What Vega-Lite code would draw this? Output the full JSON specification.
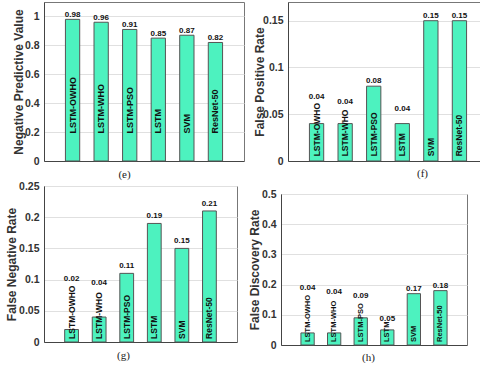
{
  "$schema": "https://vega.github.io/schema/vega-lite/v6.json",
  "padding": {"left": 4, "top": 1, "right": 0, "bottom": 0},
  "data": {"values": [
    {"model": "LSTM-OWHO", "npv": 0.98, "fpr": 0.04, "fnr": 0.02, "fdr": 0.04},
    {"model": "LSTM-WHO", "npv": 0.96, "fpr": 0.04, "fnr": 0.04, "fdr": 0.04},
    {"model": "LSTM-PSO", "npv": 0.91, "fpr": 0.08, "fnr": 0.11, "fdr": 0.09},
    {"model": "LSTM", "npv": 0.85, "fpr": 0.04, "fnr": 0.19, "fdr": 0.05},
    {"model": "SVM", "npv": 0.87, "fpr": 0.15, "fnr": 0.15, "fdr": 0.17},
    {"model": "ResNet-50", "npv": 0.82, "fpr": 0.15, "fnr": 0.21, "fdr": 0.18}
  ]},
  "spacing": 0,
  "vconcat": [
    {
      "spacing": 7,
      "hconcat": [
        {
          "width": 200, "height": 159,
          "layer": [
            {"mark": {"type": "bar", "fill": "#4DF2BF", "stroke": "#555", "strokeWidth": 1},
             "encoding": {
               "x": {"field": "model", "type": "nominal", "scale": {"domain": ["LSTM-OWHO", "LSTM-WHO", "LSTM-PSO", "LSTM", "SVM", "ResNet-50"], "paddingInner": 0.5, "paddingOuter": 0.75},
                     "axis": {"title": "(e)", "titleX": 80, "titleY": 13, "values": ["LSTM-WHO", "LSTM", "ResNet-50"]}},
               "y": {"field": "npv", "type": "quantitative", "scale": {"domain": [0, 1.1], "nice": false},
                     "axis": {"title": "Negative Predictive Value", "values": [0, 0.2, 0.4, 0.6, 0.8, 1], "tickCount": 20, "format": "~g", "minExtent": 19, "maxExtent": 19}}}},
            {"mark": {"type": "text", "angle": 270, "align": "left", "baseline": "middle", "fontSize": 9},
             "encoding": {"x": {"field": "model", "type": "nominal"}, "y": {"datum": 0.19}, "text": {"field": "model"}}},
            {"mark": {"type": "text", "baseline": "middle", "dy": -4, "fontSize": 8},
             "encoding": {"x": {"field": "model", "type": "nominal"}, "y": {"field": "npv", "type": "quantitative"}, "text": {"field": "npv", "format": ".2f"}}}
          ]
        },
        {
          "width": 200, "height": 159,
          "layer": [
            {"mark": {"type": "bar", "fill": "#4DF2BF", "stroke": "#555", "strokeWidth": 1},
             "encoding": {
               "x": {"field": "model", "type": "nominal", "scale": {"domain": ["LSTM-OWHO", "LSTM-WHO", "LSTM-PSO", "LSTM", "SVM", "ResNet-50"], "paddingInner": 0.5, "paddingOuter": 0.75},
                     "axis": {"title": "(f)", "titleX": 134, "titleY": 12, "values": ["LSTM-WHO", "LSTM", "ResNet-50"]}},
               "y": {"field": "fpr", "type": "quantitative", "scale": {"domain": [0, 0.17], "nice": false},
                     "axis": {"title": "False Positive Rate", "values": [0, 0.05, 0.1, 0.15], "tickCount": 20, "format": "~g", "minExtent": 22, "maxExtent": 22}}}},
            {"mark": {"type": "text", "angle": 270, "align": "left", "baseline": "middle", "fontSize": 8.5},
             "encoding": {"x": {"field": "model", "type": "nominal"}, "y": {"datum": 0.005}, "text": {"field": "model"}}},
            {"transform": [{"filter": {"field": "model", "oneOf": ["LSTM-PSO", "SVM", "ResNet-50"]}}],
             "mark": {"type": "text", "baseline": "middle", "dy": -5, "fontSize": 8},
             "encoding": {"x": {"field": "model", "type": "nominal"}, "y": {"field": "fpr", "type": "quantitative"}, "text": {"field": "fpr", "format": ".2f"}}},
            {"transform": [{"filter": {"field": "model", "equal": "LSTM-OWHO"}}],
             "mark": {"type": "text", "baseline": "middle", "fontSize": 8},
             "encoding": {"x": {"field": "model", "type": "nominal"}, "y": {"datum": 0.068}, "text": {"field": "fpr", "format": ".2f"}}},
            {"transform": [{"filter": {"field": "model", "equal": "LSTM-WHO"}}],
             "mark": {"type": "text", "baseline": "middle", "fontSize": 8},
             "encoding": {"x": {"field": "model", "type": "nominal"}, "y": {"datum": 0.063}, "text": {"field": "fpr", "format": ".2f"}}},
            {"transform": [{"filter": {"field": "model", "equal": "LSTM"}}],
             "mark": {"type": "text", "baseline": "middle", "fontSize": 8},
             "encoding": {"x": {"field": "model", "type": "nominal"}, "y": {"datum": 0.056}, "text": {"field": "fpr", "format": ".2f"}}}
          ]
        }
      ]
    },
    {
      "spacing": 9,
      "hconcat": [
        {
          "width": 193, "height": 156,
          "layer": [
            {"mark": {"type": "bar", "fill": "#4DF2BF", "stroke": "#555", "strokeWidth": 1},
             "encoding": {
               "x": {"field": "model", "type": "nominal", "scale": {"domain": ["LSTM-OWHO", "LSTM-WHO", "LSTM-PSO", "LSTM", "SVM", "ResNet-50"], "paddingInner": 0.5, "paddingOuter": 0.75},
                     "axis": {"title": "(g)", "titleX": 79, "titleY": 13, "values": ["LSTM-WHO", "LSTM", "ResNet-50"]}},
               "y": {"field": "fnr", "type": "quantitative", "scale": {"domain": [0, 0.25], "nice": false},
                     "axis": {"title": "False Negative Rate", "values": [0, 0.05, 0.1, 0.15, 0.2, 0.25], "tickCount": 20, "format": "~g", "minExtent": 26, "maxExtent": 26}}}},
            {"mark": {"type": "text", "angle": 270, "align": "left", "baseline": "middle", "fontSize": 8.5},
             "encoding": {"x": {"field": "model", "type": "nominal"}, "y": {"datum": 0.005}, "text": {"field": "model"}}},
            {"transform": [{"filter": {"field": "model", "oneOf": ["LSTM-PSO", "LSTM", "SVM", "ResNet-50"]}}],
             "mark": {"type": "text", "baseline": "middle", "dy": -7, "fontSize": 8},
             "encoding": {"x": {"field": "model", "type": "nominal"}, "y": {"field": "fnr", "type": "quantitative"}, "text": {"field": "fnr", "format": ".2f"}}},
            {"transform": [{"filter": {"field": "model", "equal": "LSTM-OWHO"}}],
             "mark": {"type": "text", "baseline": "middle", "fontSize": 8},
             "encoding": {"x": {"field": "model", "type": "nominal"}, "y": {"datum": 0.101}, "text": {"field": "fnr", "format": ".2f"}}},
            {"transform": [{"filter": {"field": "model", "equal": "LSTM-WHO"}}],
             "mark": {"type": "text", "baseline": "middle", "fontSize": 8},
             "encoding": {"x": {"field": "model", "type": "nominal"}, "y": {"datum": 0.094}, "text": {"field": "fnr", "format": ".2f"}}}
          ]
        },
        {
          "spacing": 1,
          "vconcat": [
            {"mark": {"type": "point", "opacity": 0}, "data": {"values": []}, "encoding": {}, "width": 1, "height": 1, "view": {"stroke": null}},
            {
              "width": 186, "height": 151,
              "layer": [
                {"mark": {"type": "bar", "fill": "#4DF2BF", "stroke": "#555", "strokeWidth": 1},
                 "encoding": {
                   "x": {"field": "model", "type": "nominal", "scale": {"domain": ["LSTM-OWHO", "LSTM-WHO", "LSTM-PSO", "LSTM", "SVM", "ResNet-50"], "paddingInner": 0.5, "paddingOuter": 0.75},
                         "axis": {"title": "(h)", "titleX": 87, "titleY": 12, "values": ["LSTM-WHO", "LSTM", "ResNet-50"]}},
                   "y": {"field": "fdr", "type": "quantitative", "scale": {"domain": [0, 0.5], "nice": false},
                         "axis": {"title": "False Discovery Rate", "values": [0, 0.1, 0.2, 0.3, 0.4, 0.5], "tickCount": 20, "format": "~g", "minExtent": 19.5, "maxExtent": 19.5}}}},
                {"mark": {"type": "text", "angle": 270, "align": "left", "baseline": "middle", "fontSize": 7.5},
                 "encoding": {"x": {"field": "model", "type": "nominal"}, "y": {"datum": 0.01}, "text": {"field": "model"}}},
                {"transform": [{"filter": {"field": "model", "oneOf": ["SVM", "ResNet-50"]}}],
                 "mark": {"type": "text", "baseline": "middle", "dy": -5, "fontSize": 8},
                 "encoding": {"x": {"field": "model", "type": "nominal"}, "y": {"field": "fdr", "type": "quantitative"}, "text": {"field": "fdr", "format": ".2f"}}},
                {"transform": [{"filter": {"field": "model", "equal": "LSTM-OWHO"}}],
                 "mark": {"type": "text", "baseline": "middle", "fontSize": 8},
                 "encoding": {"x": {"field": "model", "type": "nominal"}, "y": {"datum": 0.188}, "text": {"field": "fdr", "format": ".2f"}}},
                {"transform": [{"filter": {"field": "model", "equal": "LSTM-WHO"}}],
                 "mark": {"type": "text", "baseline": "middle", "fontSize": 8},
                 "encoding": {"x": {"field": "model", "type": "nominal"}, "y": {"datum": 0.174}, "text": {"field": "fdr", "format": ".2f"}}},
                {"transform": [{"filter": {"field": "model", "equal": "LSTM-PSO"}}],
                 "mark": {"type": "text", "baseline": "middle", "fontSize": 8},
                 "encoding": {"x": {"field": "model", "type": "nominal"}, "y": {"datum": 0.161}, "text": {"field": "fdr", "format": ".2f"}}},
                {"transform": [{"filter": {"field": "model", "equal": "LSTM"}}],
                 "mark": {"type": "text", "baseline": "middle", "fontSize": 8},
                 "encoding": {"x": {"field": "model", "type": "nominal"}, "y": {"datum": 0.085}, "text": {"field": "fdr", "format": ".2f"}}}
              ]
            }
          ]
        }
      ]
    }
  ],
  "config": {
    "background": "white",
    "view": {"stroke": "#777", "strokeWidth": 1},
    "axis": {"labelFont": "Liberation Sans", "labelFontWeight": "bold", "labelFontSize": 10.5, "labelColor": "#333", "labelOverlap": false,
             "titleFont": "Liberation Sans", "titleFontWeight": "bold", "titleFontSize": 12, "titleColor": "#333",
             "domainColor": "#444", "gridColor": "#e0e0e0", "ticks": false, "labelPadding": 5, "titlePadding": 0},
    "axisX": {"labels": false, "titleFont": "Liberation Serif", "titleFontWeight": "normal", "titleFontSize": 11, "titleColor": "#222", "titleBaseline": "middle", "titleAlign": "center", "bandPosition": 0.5},
    "text": {"font": "Liberation Sans", "fontWeight": "bold", "color": "#111"}
  }
}
